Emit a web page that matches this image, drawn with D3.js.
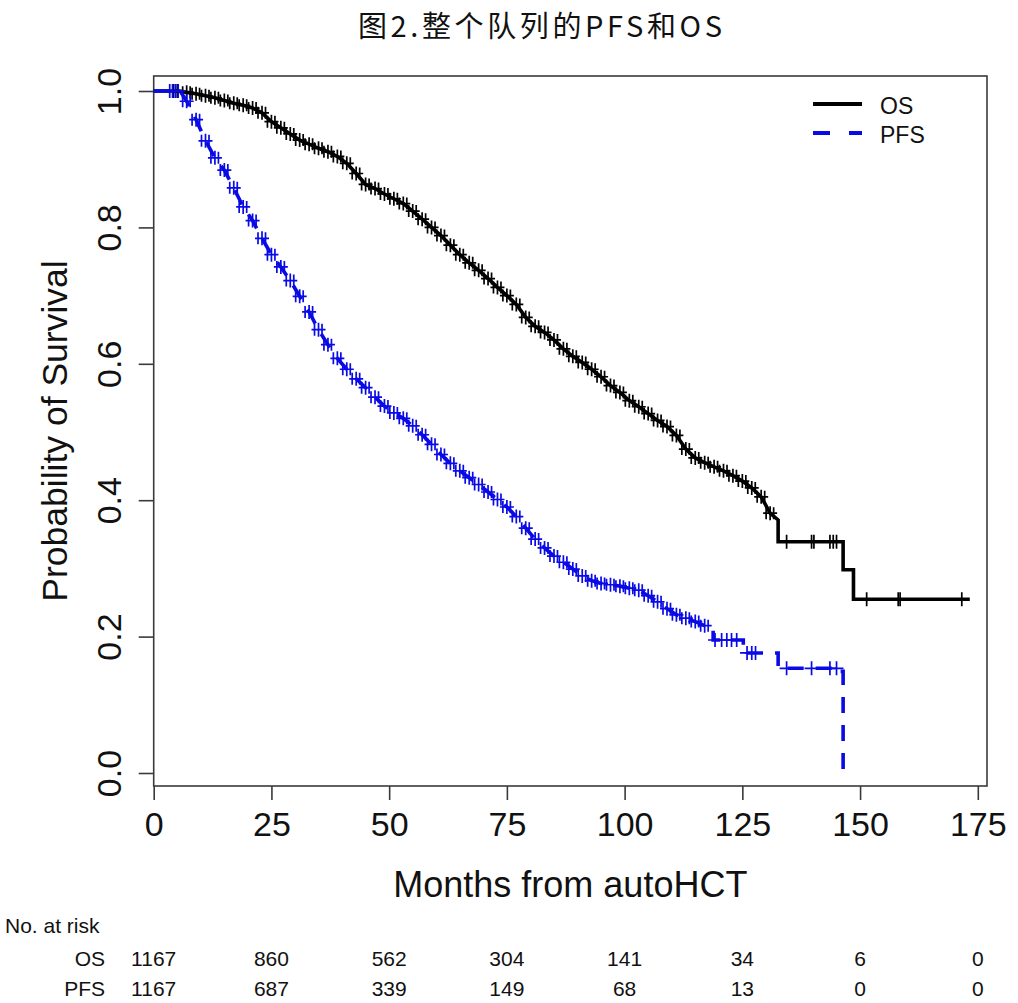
<!DOCTYPE html>
<html><head><meta charset="utf-8">
<script src="https://cdn.jsdelivr.net/npm/d3@7/dist/d3.min.js"></script>
<style>
html,body{margin:0;padding:0;background:#fff;}
svg{display:block;}
</style></head>
<body>
<svg id="chart" width="1018" height="1003"></svg>
<script>
// ---------- data ----------
const titleText = "图2.整个队列的PFS和OS";
const seriesNames = ["OS", "PFS"];
const xTicks = [0, 25, 50, 75, 100, 125, 150, 175];
const yTicks = [0, 0.2, 0.4, 0.6, 0.8, 1.0];
const riskOS  = [1167, 860, 562, 304, 141, 34, 6, 0];
const riskPFS = [1167, 687, 339, 149, 68, 13, 0, 0];

// curve vertices [month, survival]; repeated months are vertical drops
const osCurve = [
 [0,1.0],[5.5,1.0],[7,0.998],[9,0.996],[11,0.993],[13,0.990],[15,0.986],[17,0.982],[19,0.979],
 [21,0.975],[23,0.968],[25,0.955],[27,0.946],[29,0.937],[31,0.928],[33,0.922],[35,0.916],
 [37,0.911],[39,0.904],[41,0.894],[43,0.879],[45,0.863],[47,0.857],[49,0.849],[51,0.842],
 [53,0.835],[55,0.824],[57,0.812],[59,0.800],[61,0.788],[63,0.774],[65,0.760],[67,0.748],
 [69,0.737],[71,0.725],[73,0.712],[75,0.700],[77,0.687],[79,0.668],[81,0.655],[83,0.646],
 [85,0.635],[87,0.622],[89,0.611],[91,0.602],[93,0.592],[95,0.581],[97,0.568],[99,0.558],
 [101,0.546],[103,0.537],[105,0.527],[107,0.517],[109,0.508],[111,0.495],[113,0.475],
 [115,0.462],[117,0.455],[119,0.449],[121,0.443],[123,0.436],[125,0.428],[127,0.418],
 [129,0.405],[130.9,0.381],[132.6,0.371],[132.6,0.339],[146.4,0.339],[146.4,0.298],
 [148.6,0.298],[148.6,0.2547],[173.3,0.2547]
];
const pfsCurve = [
 [0,1.0],[5.6,1.0],[7,0.985],[9,0.958],[11,0.927],[13,0.902],[15,0.884],[17,0.858],[19,0.830],
 [21,0.810],[23,0.784],[25,0.760],[27,0.742],[29,0.722],[31,0.699],[33,0.676],[35,0.650],
 [37,0.628],[39,0.608],[41,0.592],[43,0.578],[45,0.565],[47,0.551],[49,0.538],[51,0.528],
 [53,0.520],[55,0.509],[57,0.496],[59,0.482],[61,0.467],[63,0.454],[65,0.443],[67,0.433],
 [69,0.423],[71,0.412],[73,0.401],[75,0.390],[77,0.376],[79,0.359],[81,0.343],[83,0.330],
 [85,0.318],[87,0.309],[89,0.299],[91,0.289],[93,0.282],[95,0.278],[97,0.276],[99,0.274],
 [101,0.271],[103,0.268],[105,0.260],[107,0.251],[109,0.241],[111,0.232],[113,0.227],
 [115,0.222],[117,0.216],[118.8,0.213],[118.8,0.195],[125.2,0.195],[125.2,0.176],
 [132.6,0.176],[132.6,0.1535],[145.5,0.1535],[145.5,0.149],[146.4,0.149],[146.4,0.0]
];
// extra censoring marks [month, survival]
const osCensorExtra = [
 [4.2,1.0],[5.0,1.0],[134.4,0.339],[139.7,0.339],[140.2,0.339],[143.6,0.339],[144.3,0.339],
 [145.0,0.339],[151.4,0.2547],[158.1,0.2547],[158.5,0.2547],[171.6,0.2547]
];
const pfsCensorExtra = [
 [3.4,1.0],[4.0,1.0],[4.6,1.0],[5.2,1.0],[119.2,0.195],[120.6,0.195],[121.7,0.195],
 [122.7,0.195],[123.8,0.195],[126.0,0.176],[127.0,0.176],[127.8,0.176],[134.4,0.1535],
 [139.7,0.1535],[143.6,0.1535],[145.0,0.1535]
];
const osMarkRange = [6, 131];
const pfsMarkRange = [6, 118];

// ---------- layout ----------
const svg = d3.select("#chart");
const box = {left: 153.7, right: 987, top: 76, bottom: 786};
const x = d3.scaleLinear().domain([0, 175]).range([153.7, 977.8]);
const y = d3.scaleLinear().domain([0, 1]).range([773, 91]);
const FONT = "'Liberation Sans', Arial, Helvetica, sans-serif";

// title
svg.append("text")
  .attr("x", 540).attr("y", 37)
  .attr("text-anchor", "middle")
  .attr("font-family", "'Noto Sans CJK SC', sans-serif")
  .attr("font-size", 29)
  .attr("fill", "#111")
  .attr("textLength", 364).attr("lengthAdjust", "spacing")
  .text(titleText);

// box
svg.append("rect")
  .attr("x", box.left).attr("y", box.top)
  .attr("width", box.right - box.left).attr("height", box.bottom - box.top)
  .attr("fill", "none").attr("stroke", "#3a3a3a").attr("stroke-width", 1.6);

// x axis
const gx = svg.append("g").attr("transform", `translate(0,${box.bottom})`)
  .call(d3.axisBottom(x).tickValues(xTicks).tickSize(14).tickPadding(10).tickFormat(d3.format("d")));
gx.select(".domain").remove();
gx.selectAll("line").attr("stroke", "#3a3a3a").attr("stroke-width", 1.6);
gx.selectAll("text").attr("font-family", FONT).attr("font-size", 34).attr("fill", "#111")
  .attr("dy", "0.71em").attr("y", 26);

// y axis (rotated labels like R)
const gy = svg.append("g").attr("transform", `translate(${box.left},0)`)
  .call(d3.axisLeft(y).tickValues(yTicks).tickSize(15).tickFormat(d3.format(".1f")));
gy.select(".domain").remove();
gy.selectAll("line").attr("stroke", "#3a3a3a").attr("stroke-width", 1.6);
gy.selectAll("text")
  .attr("font-family", FONT).attr("font-size", 34).attr("fill", "#111")
  .attr("x", null).attr("dy", null)
  .attr("text-anchor", "middle")
  .attr("transform", "translate(-33,0) rotate(-90)");

// axis titles
svg.append("text")
  .attr("x", (box.left + box.right) / 2).attr("y", 897)
  .attr("text-anchor", "middle")
  .attr("font-family", FONT).attr("font-size", 36).attr("fill", "#111")
  .text("Months from autoHCT");
svg.append("text")
  .attr("transform", `translate(67,${(box.top + box.bottom) / 2}) rotate(-90)`)
  .attr("text-anchor", "middle")
  .attr("font-family", FONT).attr("font-size", 35.5).attr("fill", "#111")
  .text("Probability of Survival");

// curves
const line = d3.line().x(d => x(d[0])).y(d => y(d[1]));
const plot = svg.append("g");

// censor-mark glyph: a "+" with a few extra vertical ticks (dense censoring look)
function markPath(px, py, dense) {
  let p = `M${px - 7},${py}h14M${px},${py - 7}v14`;
  if (dense) p += `M${px - 4},${py - 6}v12M${px + 3.5},${py - 6}v12`;
  return p;
}

function drawSeries(curve, extra, range, color, dash) {
  plot.append("path").datum(curve)
    .attr("d", line).attr("fill", "none")
    .attr("stroke", color).attr("stroke-width", 3.6)
    .attr("stroke-dasharray", dash)
    .attr("stroke-linecap", "butt");
  const g = plot.append("g").attr("fill", "none").attr("stroke", color).attr("stroke-width", 1.7);
  g.selectAll("path.dense")
    .data(curve.filter(d => d[0] >= range[0] && d[0] <= range[1]))
    .join("path").attr("class", "dense")
    .attr("d", d => markPath(x(d[0]), y(d[1]), true));
  g.selectAll("path.single").data(extra).join("path").attr("class", "single")
    .attr("d", d => markPath(x(d[0]), y(d[1]), false));
}
drawSeries(osCurve, osCensorExtra, osMarkRange, "#000", null);
drawSeries(pfsCurve, pfsCensorExtra, pfsMarkRange, "#0a0ae6", "16,12");

// legend
const legend = svg.append("g");
const legItems = [
  {name: seriesNames[0], color: "#000", dash: null, y: 104},
  {name: seriesNames[1], color: "#0a0ae6", dash: "17,19", y: 133}
];
legItems.forEach(it => {
  legend.append("line").attr("x1", 813).attr("x2", 862).attr("y1", it.y).attr("y2", it.y)
    .attr("stroke", it.color).attr("stroke-width", 4).attr("stroke-dasharray", it.dash);
  legend.append("text").attr("x", 880).attr("y", it.y + 10)
    .attr("font-family", FONT).attr("font-size", 23).attr("fill", "#111").text(it.name);
});

// number at risk table
const RFONT = "'Liberation Sans Narrow', 'Liberation Sans', Arial, sans-serif";
svg.append("text").attr("x", 5).attr("y", 933)
  .attr("font-family", RFONT).attr("font-size", 21).attr("fill", "#111").text("No. at risk");
const rows = [{name: seriesNames[0], vals: riskOS, y: 966}, {name: seriesNames[1], vals: riskPFS, y: 996}];
rows.forEach(r => {
  svg.append("text").attr("x", 105).attr("y", r.y).attr("text-anchor", "end")
    .attr("font-family", RFONT).attr("font-size", 21).attr("fill", "#111").text(r.name);
  svg.append("g").selectAll("text").data(r.vals).join("text")
    .attr("x", (d, i) => x(xTicks[i])).attr("y", r.y).attr("text-anchor", "middle")
    .attr("font-family", RFONT).attr("font-size", 21).attr("fill", "#111")
    .text(d => d);
});
</script>
</body></html>
